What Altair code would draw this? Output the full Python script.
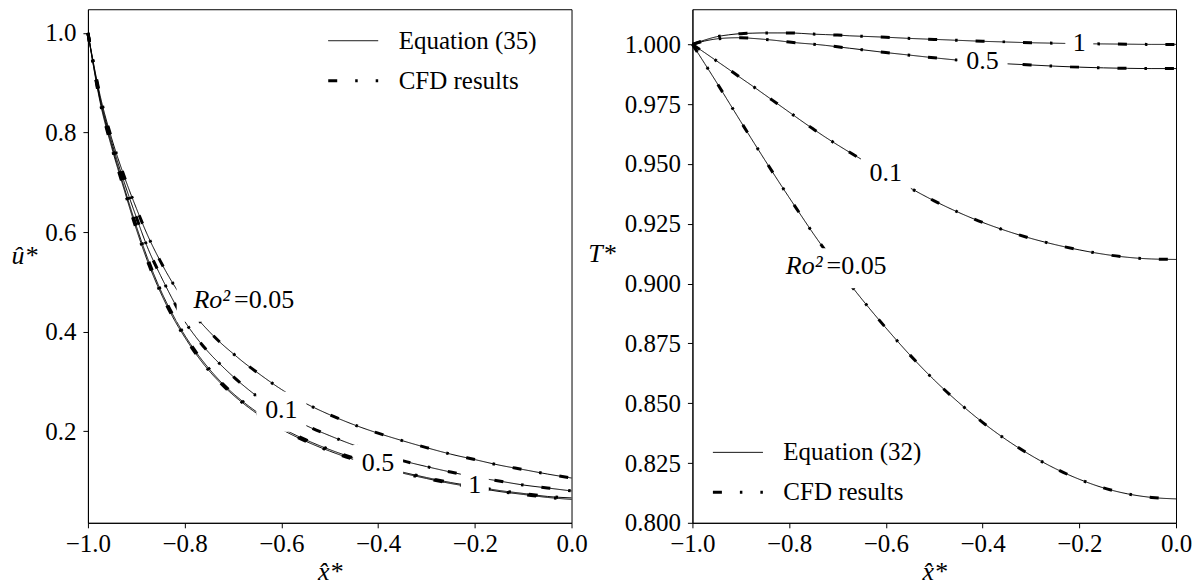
import altair as alt
import pandas as pd

# ---------------- data ----------------
X = [-1.0, -0.975, -0.95, -0.925, -0.9, -0.875, -0.85, -0.825, -0.8, -0.775,
     -0.75, -0.725, -0.7, -0.675, -0.65, -0.6, -0.55, -0.5, -0.45, -0.4,
     -0.35, -0.3, -0.25, -0.2, -0.15, -0.1, -0.05, 0.0]
RO = ["0.05", "0.1", "0.5", "1"]

# left panel: u* (Equation (35) / CFD)
U_005 = [1.0, 0.875, 0.785, 0.712, 0.648, 0.590, 0.541, 0.498, 0.461, 0.428,
         0.401, 0.377, 0.356, 0.336, 0.318, 0.284, 0.256, 0.233, 0.213, 0.196,
         0.181, 0.167, 0.154, 0.143, 0.132, 0.123, 0.114, 0.106]
U_01 = [1.0, 0.870, 0.778, 0.700, 0.630, 0.565, 0.513, 0.465, 0.421, 0.387,
        0.358, 0.333, 0.310, 0.289, 0.270, 0.239, 0.212, 0.191, 0.172, 0.156,
        0.141, 0.129, 0.118, 0.108, 0.100, 0.092, 0.086, 0.080]
U_05 = [1.0, 0.866, 0.772, 0.690, 0.612, 0.543, 0.484, 0.435, 0.393, 0.357,
        0.326, 0.299, 0.276, 0.256, 0.238, 0.207, 0.183, 0.163, 0.146, 0.131,
        0.118, 0.107, 0.097, 0.089, 0.081, 0.075, 0.069, 0.066]
U_1 = [1.0, 0.862, 0.767, 0.685, 0.606, 0.537, 0.479, 0.430, 0.389, 0.353,
       0.322, 0.296, 0.273, 0.253, 0.235, 0.204, 0.180, 0.160, 0.143, 0.129,
       0.116, 0.105, 0.095, 0.087, 0.079, 0.073, 0.067, 0.063]

# right panel: T* (Equation (32) / CFD)
T_005 = [1.0, 0.9921, 0.9841, 0.9759, 0.9677, 0.9596, 0.9516, 0.9437, 0.9360, 0.9284,
         0.9209, 0.9138, 0.9068, 0.9000, 0.8936, 0.8815, 0.8701, 0.8597, 0.8504, 0.8420,
         0.8346, 0.8282, 0.8227, 0.8182, 0.8146, 0.8121, 0.8106, 0.8100]
T_01 = [1.0, 0.9966, 0.9931, 0.9896, 0.9860, 0.9825, 0.9789, 0.9753, 0.9717, 0.9681,
        0.9646, 0.9612, 0.9580, 0.9549, 0.9519, 0.9459, 0.9400, 0.9346, 0.9298, 0.9256,
        0.9220, 0.9189, 0.9163, 0.9141, 0.9123, 0.9110, 0.9103, 0.9101]
T_05 = [1.0, 1.0014, 1.0023, 1.0027, 1.0028, 1.0025, 1.0021, 1.0016, 1.0010, 1.0005,
        1.0001, 0.9996, 0.9990, 0.9984, 0.9978, 0.9966, 0.9955, 0.9944, 0.9934, 0.9926,
        0.9919, 0.9914, 0.9909, 0.9905, 0.9902, 0.9900, 0.9899, 0.9899]
T_1 = [1.0, 1.0018, 1.0032, 1.0040, 1.0045, 1.0047, 1.0048, 1.0048, 1.0048, 1.0046,
       1.0043, 1.0041, 1.0039, 1.0036, 1.0034, 1.0030, 1.0025, 1.0021, 1.0017, 1.0013,
       1.0010, 1.0007, 1.0005, 1.0003, 1.0002, 1.0001, 1.0000, 1.0000]

# curve labels
LBL_TEXT = ["Ro²=0.05", "0.1", "0.5", "1"]
LBL_U_X = [-0.675, -0.60, -0.40, -0.20]
LBL_U_Y = [0.464, 0.243, 0.136, 0.091]
LBL_T_X = [-0.70, -0.60, -0.40, -0.20]
LBL_T_Y = [0.9073, 0.9462, 0.9930, 1.0004]

X_TICKS = [-1.0, -0.8, -0.6, -0.4, -0.2, 0.0]
U_TICKS = [0.2, 0.4, 0.6, 0.8, 1.0]
T_TICKS = [0.800, 0.825, 0.850, 0.875, 0.900, 0.925, 0.950, 0.975, 1.000]

# ---------------- styling ----------------
FONT = "Liberation Serif"
BOX_W = {"Ro²=0.05": 137, "0.1": 50, "0.5": 50, "1": 28}
BOX_H = 40
BOX_DY = 2
PW, PH = 484, 514
LABEL_FS = 26


def box_path(w):
    r = w / 2.0
    top = (-BOX_H / 2.0 + BOX_DY) / r
    bot = (BOX_H / 2.0 + BOX_DY) / r
    return f"M-1,{top:.4f}L1,{top:.4f}L1,{bot:.4f}L-1,{bot:.4f}Z"


def panel(series, eq_label, lx, ly, y_domain, y_ticks, y_fmt, y_title,
          y_title_x, y_title_y, legend_x, legend_y):
    rows = []
    for ro, vals in zip(RO, series):
        for xv, yv in zip(X, vals):
            rows.append({"x": xv, "y": yv, "ro": ro})
    curves = pd.DataFrame(rows)
    eq = curves.assign(kind=eq_label)
    cfd = curves.assign(kind="CFD results")
    kinds = [eq_label, "CFD results"]

    legend = alt.Legend(title=None, orient="none", legendX=legend_x, legendY=legend_y,
                        symbolType="stroke", symbolSize=2500, labelFontSize=25,
                        labelFont=FONT, labelColor="black", labelOffset=19,
                        rowPadding=-16, padding=0, symbolStrokeColor="black")
    dash = alt.StrokeDash("kind:N", scale=alt.Scale(domain=kinds, range=[[1, 0], [9, 18, 2.5, 18]]),
                          legend=legend)
    swidth = alt.StrokeWidth("kind:N", scale=alt.Scale(domain=kinds, range=[1.0, 3.0]),
                             legend=legend)

    xenc = alt.X("x:Q", scale=alt.Scale(domain=[-1, 0], nice=False, zero=False),
                 axis=alt.Axis(values=X_TICKS, format=".1f", title="x̂*",
                               titleFontStyle="italic", titleY=49, titleBaseline="middle",
                               labelPadding=4))
    yenc = alt.Y("y:Q", scale=alt.Scale(domain=y_domain, nice=False, zero=False),
                 axis=alt.Axis(values=y_ticks, format=y_fmt, title=y_title, titleAngle=0,
                               titleX=y_title_x, titleY=y_title_y, titleAlign="center",
                               titleBaseline="middle", titleFontStyle="italic",
                               labelPadding=7))

    eq_layer = alt.Chart(eq).mark_line(color="black", interpolate="monotone").encode(
        x=xenc, y=yenc, detail="ro:N", strokeDash=dash, strokeWidth=swidth)
    cfd_layer = alt.Chart(cfd).mark_line(color="black", interpolate="monotone",
                                         strokeCap="butt").encode(
        x="x:Q", y="y:Q", detail="ro:N", strokeDash=dash, strokeWidth=swidth)

    lab = pd.DataFrame({"x": lx, "y": ly, "text": LBL_TEXT})
    lab["shp"] = [box_path(BOX_W[t]) for t in LBL_TEXT]
    lab["sz"] = [BOX_W[t] ** 2 for t in LBL_TEXT]
    head, tail = LBL_TEXT[0].split("=", 1)
    lab["head"] = [head, "", "", ""]
    lab["tail"] = ["=" + tail, "", "", ""]

    boxes = alt.Chart(lab).mark_point(filled=True, color="white", opacity=1,
                                      strokeWidth=0).encode(
        x="x:Q", y="y:Q", shape=alt.Shape("shp:N", scale=None),
        size=alt.Size("sz:Q", scale=None))
    simple = alt.Chart(lab.iloc[1:]).mark_text(font=FONT, fontSize=LABEL_FS, color="black",
                                               align="center", baseline="middle").encode(
        x="x:Q", y="y:Q", text="text:N")
    ro_head = alt.Chart(lab.iloc[:1]).mark_text(font=FONT, fontSize=LABEL_FS, color="black",
                                                fontStyle="italic", align="right",
                                                baseline="middle", dx=-15).encode(
        x="x:Q", y="y:Q", text="head:N")
    ro_tail = alt.Chart(lab.iloc[:1]).mark_text(font=FONT, fontSize=LABEL_FS, color="black",
                                                align="left", baseline="middle", dx=-11).encode(
        x="x:Q", y="y:Q", text="tail:N")

    return alt.layer(eq_layer, cfd_layer, boxes, simple, ro_head, ro_tail).properties(
        width=PW, height=PH)


left = panel([U_005, U_01, U_05, U_1], "Equation (35)", LBL_U_X, LBL_U_Y,
             [0.016, 1.0475], U_TICKS, ".1f", "û*", -64, 246, 239, 6)
right = panel([T_005, T_01, T_05, T_1], "Equation (32)", LBL_T_X, LBL_T_Y,
              [0.8, 1.0147], T_TICKS, ".3f", "T*", -91, 244, 19, 418)

chart = alt.hconcat(left, right, spacing=121, bounds="flush").resolve_scale(
    y="independent", strokeDash="independent", strokeWidth="independent"
).resolve_legend(
    strokeDash="independent", strokeWidth="independent"
).properties(
    padding={"left": 2, "top": 0, "right": 0, "bottom": 0}
).configure(font=FONT).configure_view(
    stroke="black", strokeWidth=1
).configure_axis(
    labelFont=FONT, labelFontSize=25, labelColor="black",
    titleFont=FONT, titleFontSize=26, titleFontWeight="normal", titleColor="black",
    tickColor="black", domainColor="black", tickSize=5, tickWidth=1, domainWidth=1,
    grid=False, labelFlush=False, labelOverlap=False
)

chart.save("out.html", embed_options={"renderer": "svg", "actions": False})
